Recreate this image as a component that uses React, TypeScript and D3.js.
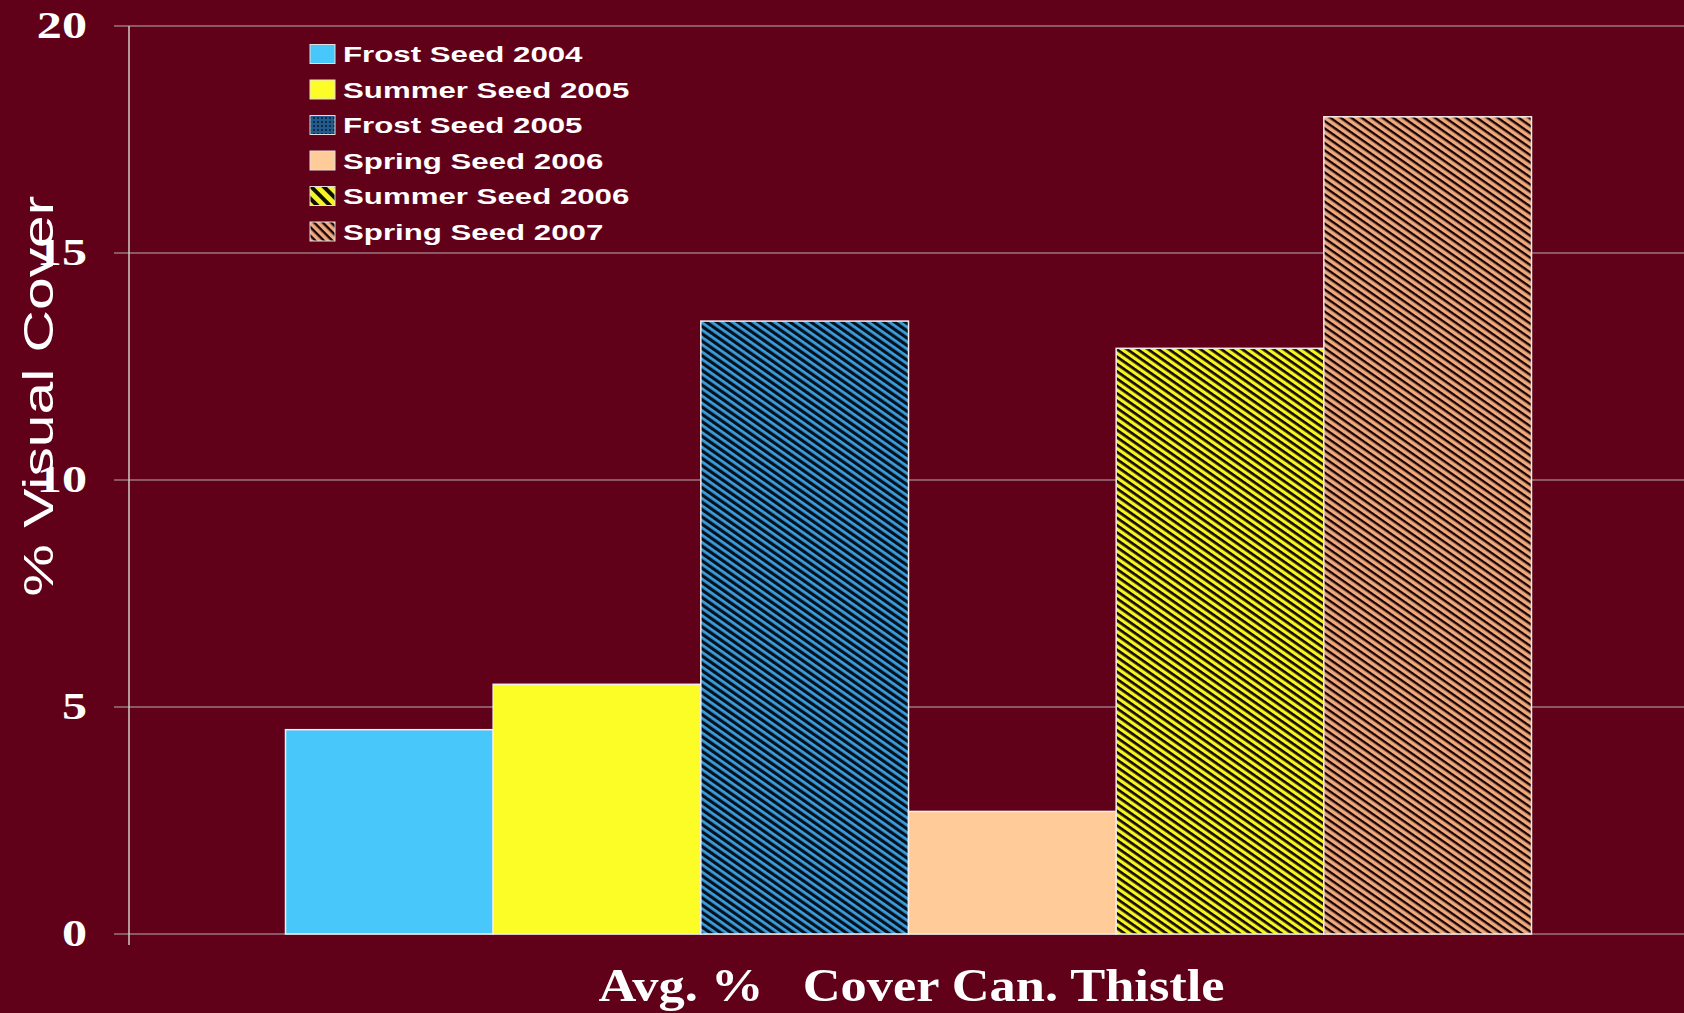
import React from "react";
import * as d3 from "d3";

const categories = ["Avg. %   Cover Can. Thistle"];
const seriesNames = [
  "Frost Seed 2004",
  "Summer Seed 2005",
  "Frost Seed 2005",
  "Spring Seed 2006",
  "Summer Seed 2006",
  "Spring Seed 2007",
];
const seriesValues = [4.5, 5.5, 13.5, 2.7, 12.9, 18.0];
const yTicks = [0, 5, 10, 15, 20];
const yLabel = "% Visual Cover";

const W = 1684;
const H = 1013;
const BG = "#610019";

const barFills = [
  "#48c8fa",
  "#fcfc26",
  "url(#hatchNavy)",
  "#ffcc99",
  "url(#hatchYellow)",
  "url(#hatchPeach)",
];
const swatchFills = [
  "#48c8fa",
  "#fcfc26",
  "url(#dotNavy)",
  "#ffcc99",
  "url(#swYellow)",
  "url(#swPeach)",
];

export default function App() {
  const plotLeft = 129;
  const plotRight = W;
  const y = d3.scaleLinear().domain([0, 20]).range([934, 26]);
  const xOuter = d3
    .scaleBand<string>()
    .domain(categories)
    .range([plotLeft + 2, plotRight + 2])
    .paddingInner(0)
    .paddingOuter(0.124);
  const xInner = d3
    .scaleBand<string>()
    .domain(seriesNames)
    .range([0, xOuter.bandwidth()])
    .padding(0);

  const legendX = 310;
  const legendY0 = 54;
  const legendStep = 35.5;

  return (
    <svg
      width={W}
      height={H}
      style={{ position: "absolute", left: 0, top: 0, display: "block" }}
    >
      <defs>
        <pattern id="hatchNavy" patternUnits="userSpaceOnUse" width="6" height="6" patternTransform="rotate(35)">
          <rect width="6" height="6" fill="#03101e" />
          <rect y="0" width="6" height="2.8" fill="#3d9edb" />
        </pattern>
        <pattern id="hatchYellow" patternUnits="userSpaceOnUse" width="6" height="6" patternTransform="rotate(35)">
          <rect width="6" height="6" fill="#f6f622" />
          <rect y="0" width="6" height="2.7" fill="#140800" />
        </pattern>
        <pattern id="hatchPeach" patternUnits="userSpaceOnUse" width="6" height="6" patternTransform="rotate(35)">
          <rect width="6" height="6" fill="#eeaa7c" />
          <rect y="0" width="6" height="2.4" fill="#1a0204" />
        </pattern>
        <pattern id="dotNavy" patternUnits="userSpaceOnUse" width="4" height="4">
          <rect width="4" height="4" fill="#225c8e" />
          <circle cx="2" cy="2" r="1.1" fill="#081f38" />
        </pattern>
        <pattern id="swYellow" patternUnits="userSpaceOnUse" width="9" height="9" patternTransform="rotate(45)">
          <rect width="9" height="9" fill="#f4f428" />
          <rect y="0" width="9" height="4" fill="#101000" />
        </pattern>
        <pattern id="swPeach" patternUnits="userSpaceOnUse" width="6" height="6" patternTransform="rotate(45)">
          <rect width="6" height="6" fill="#eeaa80" />
          <rect y="0" width="6" height="2.4" fill="#1a0204" />
        </pattern>
      </defs>

      <rect x={0} y={0} width={W} height={H} fill={BG} />

      {/* gridlines */}
      {yTicks.map((t) => (
        <line
          key={"g" + t}
          x1={114}
          x2={plotRight}
          y1={y(t)}
          y2={y(t)}
          stroke="#b9b0b2"
          strokeWidth={1.2}
        />
      ))}
      {/* y axis line */}
      <line x1={plotLeft} x2={plotLeft} y1={y(20)} y2={945} stroke="#cfcaca" strokeWidth={1.5} />

      {/* tick labels */}
      {yTicks.map((t) => (
        <text
          key={"t" + t}
          transform={`translate(87,${y(t) + 11.5}) scale(1.32,1)`}
          textAnchor="end"
          fontFamily="'Liberation Serif', 'Times New Roman', serif"
          fontWeight="bold"
          fontSize={38}
          fill="#ffffff"
        >
          {t}
        </text>
      ))}

      {/* bars */}
      {categories.map((c) => (
        <g key={c} transform={`translate(${xOuter(c)},0)`}>
          {seriesNames.map((s, i) => (
            <rect
              key={s}
              x={xInner(s)}
              y={y(seriesValues[i])}
              width={xInner.bandwidth()}
              height={y(0) - y(seriesValues[i])}
              fill={barFills[i]}
              stroke="#f2eeee"
              strokeWidth={1.5}
            />
          ))}
        </g>
      ))}

      {/* category label */}
      {categories.map((c) => (
        <text
          key={"c" + c}
          transform={`translate(${(xOuter(c) as number) + xOuter.bandwidth() / 2 + 3},1001) scale(1.14,1)`}
          textAnchor="middle"
          fontFamily="'Liberation Serif', 'Times New Roman', serif"
          fontWeight="bold"
          fontSize={46}
          fill="#ffffff"
          style={{ whiteSpace: "pre" }}
        >
          {c}
        </text>
      ))}

      {/* legend */}
      {seriesNames.map((s, i) => {
        const cy = legendY0 + i * legendStep;
        return (
          <g key={"l" + s}>
            <rect
              x={legendX}
              y={cy - 9.5}
              width={25}
              height={19}
              fill={swatchFills[i]}
              stroke="#e6dede"
              strokeWidth={1}
            />
            <text
              transform={`translate(343,${cy + 8}) scale(1.42,1)`}
              fontFamily="'Liberation Sans', Arial, sans-serif"
              fontWeight="bold"
              fontSize={22}
              fill="#ffffff"
            >
              {s}
            </text>
          </g>
        );
      })}

      {/* y axis title */}
      <text
        transform={`translate(53,396) rotate(-90) scale(1.4,1)`}
        textAnchor="middle"
        fontFamily="'Liberation Sans', Arial, sans-serif"
        fontSize={42}
        fill="#ffffff"
      >
        {yLabel}
      </text>
    </svg>
  );
}
